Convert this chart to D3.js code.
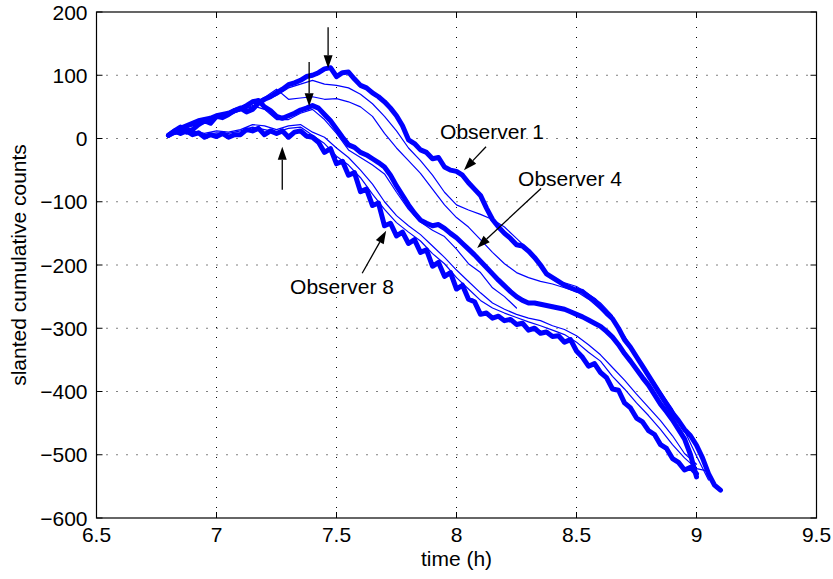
<!DOCTYPE html>
<html><head><meta charset="utf-8">
<script src="https://cdn.jsdelivr.net/npm/d3@7"></script>
<style>body{margin:0;background:#fff}</style>
</head><body><svg id="c" width="833" height="579"></svg>
<script>
// coarse time grid (thin series)
const times = [6.80,6.85,6.90,6.95,7.00,7.05,7.10,7.15,7.20,7.25,7.30,7.35,7.40,7.45,7.50,7.55,7.60,7.65,7.70,7.75,7.80,7.85,7.90,7.95,8.00,8.05,8.10,8.15,8.20,8.25,8.30,8.35,8.40,8.45,8.50,8.55,8.60,8.65,8.70,8.75,8.80,8.85,8.90,8.95,9.00,9.05,9.10];
// fine time grid (thick series)
const timesFine = [6.800,6.825,6.850,6.875,6.900,6.925,6.950,6.975,7.000,7.025,
  7.050,7.075,7.100,7.125,7.150,7.175,7.200,7.225,7.250,7.275,
  7.300,7.325,7.350,7.375,7.400,7.425,7.450,7.475,7.500,7.525,
  7.550,7.575,7.600,7.625,7.650,7.675,7.700,7.725,7.750,7.775,
  7.800,7.825,7.850,7.875,7.900,7.925,7.950,7.975,8.000,8.025,
  8.050,8.075,8.100,8.125,8.150,8.175,8.200,8.225,8.250,8.275,
  8.300,8.325,8.350,8.375,8.400,8.425,8.450,8.475,8.500,8.525,
  8.550,8.575,8.600,8.625,8.650,8.675,8.700,8.725,8.750,8.775,
  8.800,8.825,8.850,8.875,8.900,8.925,8.950,8.975,9.000,9.025,
  9.050,9.075,9.100];
const obs1 = [5,12,18,10,14,22,28,24,35,33,
  38,44,48,42,46,56,62,66,72,78,
  85,88,92,98,100,104,110,112,98,104,
  105,94,84,80,72,66,58,48,36,20,
  -2,-8,-18,-22,-32,-30,-45,-50,-52,-58,
  -70,-80,-90,-110,-128,-140,-150,-158,-168,-170,
  -178,-188,-200,-214,-220,-226,-232,-236,-240,-242,
  -250,-256,-266,-276,-285,-300,-318,-330,-345,-360,
  -375,-390,-405,-420,-434,-446,-460,-470,-485,-505,
  -530,-548,-556];
const obs2 = [5,15,16,26,33,40,45,50,60,68,80,86,92,86,84,80,70,55,35,12,-15,-35,-58,-85,-105,-113,-120,-128,-140,-158,-176,-200,-222,-228,-234,-246,-260,-280,null,null,null,null,null,null,null,null,null];
const obs3 = [5,14,20,24,34,42,46,55,65,78,62,64,66,62,63,58,50,35,8,-15,-35,-55,-80,-105,-125,-140,-160,-180,-198,-212,-220,-226,-230,-236,-242,-254,-270,-288,-312,-345,-372,-400,-428,-462,-502,-540,null];
const obs4 = [5,10,16,20,24,28,30,32,36,38,
  40,44,47,52,58,60,50,44,35,32,
  36,40,45,48,52,48,38,28,15,2,
  -10,-14,-22,-26,-32,-38,-45,-58,-75,-90,
  -105,-118,-129,-134,-138,-136,-142,-150,-157,-166,
  -175,-184,-194,-204,-214,-224,-233,-242,-250,-256,
  -260,-260,-262,-264,-266,-268,-270,-274,-278,-282,
  -287,-292,-297,-305,-314,-326,-340,-352,-365,-378,
  -390,-405,-420,-432,-445,-460,-475,-500,-535,null,
  null,null,null];
const obs5 = [5,12,22,28,32,38,44,52,46,30,30,40,46,30,8,-18,-30,-42,-56,-85,-112,-132,-145,-155,-175,-198,-212,-236,-250,-268,null,null,null,null,null,null,null,null,null,null,null,null,null,null,null,null,null];
const obs6 = [5,10,12,8,12,10,14,22,20,14,20,22,10,2,-15,-30,-50,-72,-100,-122,-138,-152,-170,-188,-208,-226,-244,-260,-270,-278,-284,-288,-296,-302,-312,-326,-342,-362,-382,-404,-425,-446,-470,-498,-515,null,null];
const obs7 = [5,8,10,6,9,8,12,18,14,10,16,18,5,-8,-28,-42,-62,-88,-112,-133,-148,-162,-182,-198,-220,-238,-256,-268,-276,-283,-290,-296,-303,-310,-322,-338,-352,-376,-396,-418,-438,-460,-484,-505,-522,-526,null];
const obs8 = [5,12,8,12,6,9,2,6,3,8,
  2,6,6,14,12,16,6,12,8,12,
  2,10,12,4,2,-6,-22,-16,-40,-36,
  -58,-54,-84,-80,-106,-102,-138,-134,-154,-148,
  -166,-160,-180,-176,-202,-196,-218,-212,-238,-232,
  -254,-258,-278,-276,-284,-281,-288,-286,-294,-292,
  -303,-300,-308,-306,-313,-312,-322,-318,-336,-346,
  -360,-356,-370,-378,-396,-398,-418,-426,-442,-448,
  -462,-468,-484,-490,-506,-512,-524,-520,-530,null,
  null,null,null];
const seriesNames = ["Observer 1","Observer 2","Observer 3","Observer 4","Observer 5","Observer 6","Observer 7","Observer 8"];
const seriesValues = [obs1,obs2,obs3,obs4,obs5,obs6,obs7,obs8];
const seriesTimes = [timesFine,times,times,timesFine,times,times,times,timesFine];
const thickSeries = ["Observer 1","Observer 4","Observer 8"];
const xTicks = [6.5,7,7.5,8,8.5,9,9.5];
const yTicks = [200,100,0,-100,-200,-300,-400,-500,-600];
const xLabel = "time (h)";
const yLabel = "slanted cumulative counts";
const annotations = [
  {text:"Observer 1", x:8.148, y:-1},
  {text:"Observer 4", x:8.473, y:-75},
  {text:"Observer 8", x:7.523, y:-246}
];
const arrows = [
  {x1:7.465,y1:176,x2:7.465,y2:111},
  {x1:7.386,y1:121,x2:7.386,y2:51},
  {x1:7.274,y1:-81,x2:7.274,y2:-13},
  {x1:8.123,y1:-13,x2:8.031,y2:-50},
  {x1:8.352,y1:-79,x2:8.086,y2:-173},
  {x1:7.607,y1:-213,x2:7.707,y2:-146}
];

const svg = d3.select("#c");
const L=96.5, R=816.5, T=12, B=518;
const x = d3.scaleLinear().domain([6.5,9.5]).range([L,R]);
const y = d3.scaleLinear().domain([-600,200]).range([B,T]);
const font = "'Liberation Sans', Arial, Helvetica, sans-serif";
const fmt = d3.format("");
const fs = 21;

// grid
const g = svg.append("g");
xTicks.slice(1,-1).forEach(t=>{
  g.append("line").attr("x1",x(t)).attr("x2",x(t)).attr("y1",B).attr("y2",T)
   .attr("stroke","#000").attr("stroke-width",1).attr("stroke-dasharray","1,9");
});
yTicks.slice(1,-1).forEach(t=>{
  g.append("line").attr("x1",L).attr("x2",R).attr("y1",y(t)).attr("y2",y(t))
   .attr("stroke","#000").attr("stroke-width",1).attr("stroke-dasharray","1,9");
});

// data lines
const line = d3.line().defined(d=>d[1]!==null).x(d=>x(d[0])).y(d=>y(d[1]));
const order = [1,2,4,5,6,0,3,7];
order.forEach(i=>{
  const name = seriesNames[i];
  const pts = seriesTimes[i].map((t,j)=>[t, seriesValues[i][j]]);
  const thick = thickSeries.includes(name);
  svg.append("path").attr("d",line(pts)).attr("fill","none")
    .attr("stroke","#0000ff").attr("stroke-width",thick?5:1.2)
    .attr("stroke-linejoin","round").attr("stroke-linecap","round");
});

// axes box + ticks
svg.append("rect").attr("x",L).attr("y",T).attr("width",R-L).attr("height",B-T)
  .attr("fill","none").attr("stroke","#000").attr("stroke-width",1.2);
const tl = 6;
xTicks.forEach(t=>{
  svg.append("line").attr("x1",x(t)).attr("x2",x(t)).attr("y1",B).attr("y2",B-tl).attr("stroke","#000");
  svg.append("line").attr("x1",x(t)).attr("x2",x(t)).attr("y1",T).attr("y2",T+tl).attr("stroke","#000");
  svg.append("text").attr("x",x(t)).attr("y",B+24).attr("text-anchor","middle")
    .attr("font-family",font).attr("font-size",fs).text(fmt(t));
});
yTicks.forEach(t=>{
  svg.append("line").attr("x1",L).attr("x2",L+tl).attr("y1",y(t)).attr("y2",y(t)).attr("stroke","#000");
  svg.append("line").attr("x1",R).attr("x2",R-tl).attr("y1",y(t)).attr("y2",y(t)).attr("stroke","#000");
  svg.append("text").attr("x",L-9).attr("y",y(t)+7.5).attr("text-anchor","end")
    .attr("font-family",font).attr("font-size",fs).text(fmt(t));
});
svg.append("text").attr("x",(L+R)/2).attr("y",566).attr("text-anchor","middle")
  .attr("font-family",font).attr("font-size",fs).text(xLabel);
svg.append("text").attr("transform",`translate(26,${(T+B)/2}) rotate(-90)`).attr("text-anchor","middle")
  .attr("font-family",font).attr("font-size",fs).text(yLabel);

// annotations
annotations.forEach(a=>{
  svg.append("text").attr("x",x(a.x)).attr("y",y(a.y)).attr("text-anchor","middle")
    .attr("font-family",font).attr("font-size",fs).text(a.text);
});
arrows.forEach(a=>{
  const X1=x(a.x1),Y1=y(a.y1),X2=x(a.x2),Y2=y(a.y2);
  const dx=X2-X1, dy=Y2-Y1, len=Math.hypot(dx,dy), ux=dx/len, uy=dy/len;
  const hl=13, hw=4.5;
  const bx=X2-ux*hl, by=Y2-uy*hl;
  svg.append("line").attr("x1",X1).attr("y1",Y1).attr("x2",bx).attr("y2",by)
    .attr("stroke","#000").attr("stroke-width",1.3);
  svg.append("polygon").attr("points",[[X2,Y2],[bx-uy*hw,by+ux*hw],[bx+uy*hw,by-ux*hw]].map(p=>p.join(",")).join(" "))
    .attr("fill","#000");
});
</script></body></html>
